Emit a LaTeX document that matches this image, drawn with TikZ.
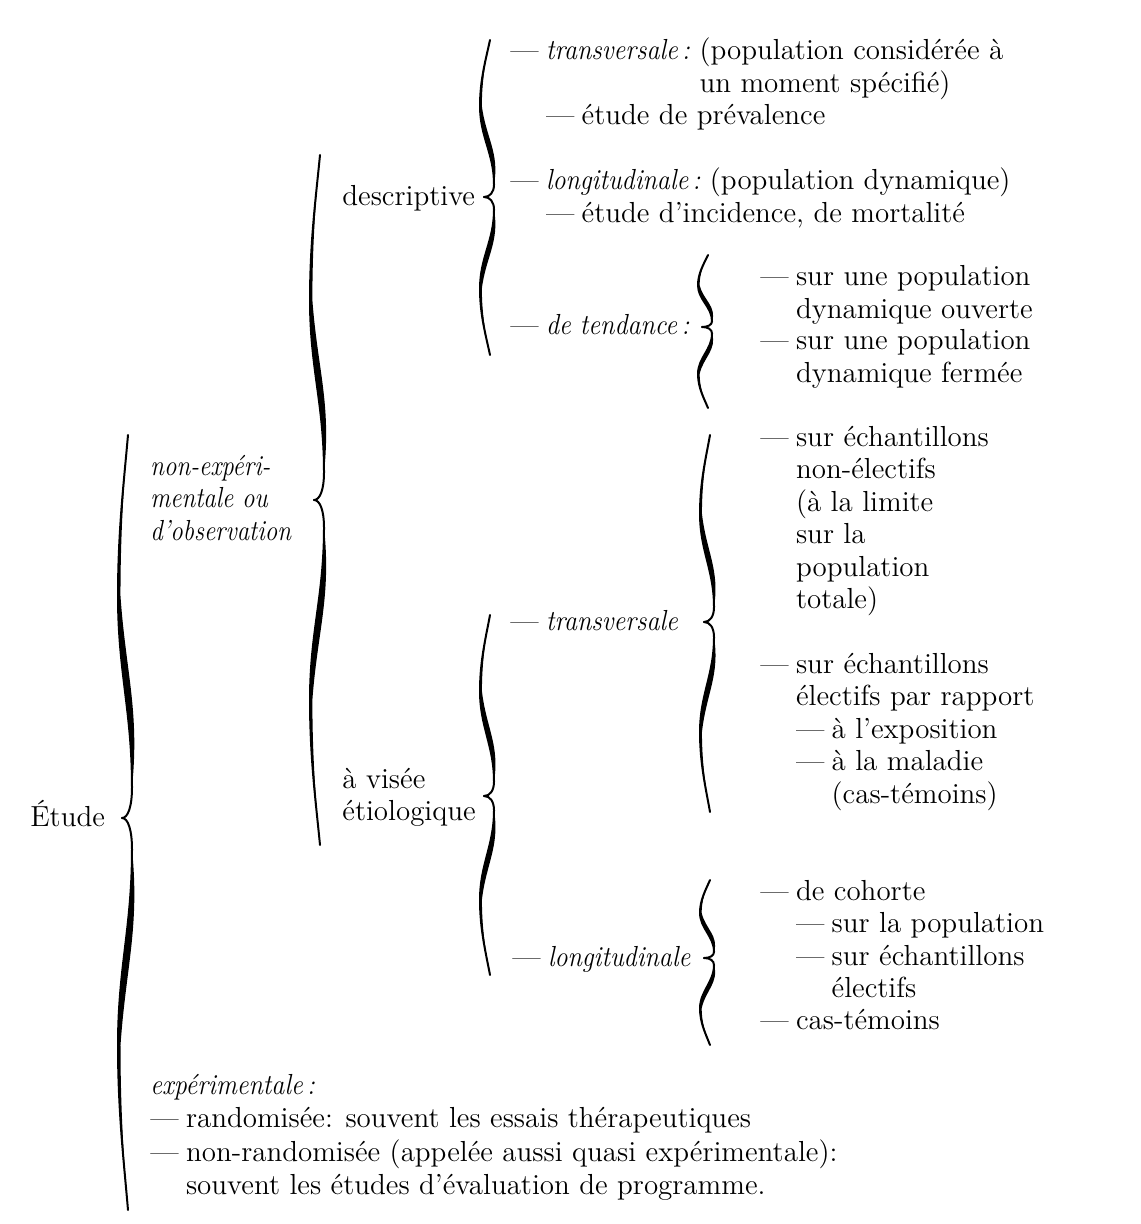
\documentclass[tikz,border=0pt]{standalone}
\usepackage{graphicx}
\usepackage{tikz}
\newcommand{\tiret}{—\hspace{0.25em}}
\newcommand{\bloc}[1]{\begin{tabular}[t]{@{}l@{}}#1\end{tabular}}
\newcommand{\ital}[1]{\scalebox{0.9}[1]{\itshape #1}}
% half of a curly brace: #1 x of end, #2 y of end, #3 y of tip
\newcommand{\demiaccolade}[3]{%
  \pgfmathsetmacro{\hh}{#3-#2}%
  \pgfmathsetmacro{\ww}{4+0.008*abs(\hh)}%
  \draw[accolade] ({#1},{#2})
    .. controls ({#1-4},{#2+0.12*\hh}) and ({#1-10},{#2+0.25*\hh}) .. ({#1-10},{#2+0.42*\hh})
    .. controls ({#1-10},{#2+0.62*\hh}) and ({#1+4},{#2+0.72*\hh}) .. ({#1+4},{#2+0.92*\hh})
    .. controls ({#1+4},{#2+0.97*\hh}) and ({#1},{#3}) .. ({#1-6},{#3});
  \fill ({#1},{#2})
    .. controls ({#1-4},{#2+0.12*\hh}) and ({#1-10},{#2+0.25*\hh}) .. ({#1-10},{#2+0.42*\hh})
    .. controls ({#1-10},{#2+0.62*\hh}) and ({#1+4},{#2+0.72*\hh}) .. ({#1+4},{#2+0.92*\hh})
    .. controls ({#1+4+1.1*\ww},{#2+0.72*\hh}) and ({#1-10+1.1*\ww},{#2+0.62*\hh}) .. ({#1-10+0.35*\ww},{#2+0.42*\hh})
    .. controls ({#1-10+0.35*\ww},{#2+0.25*\hh}) and ({#1-4},{#2+0.12*\hh}) .. cycle;
}
\newcommand{\accolade}[4]{\demiaccolade{#1}{#2}{#3}\demiaccolade{#1}{#4}{#3}}
\tikzset{
  txt/.style={anchor=base west, inner sep=0pt},
  accolade/.style={line width=1pt, line cap=round},
}

\begin{document}
\begin{tikzpicture}[x=0.5pt, y=-0.5pt, font=\fontsize{14.5}{16.25}\selectfont]
  \useasboundingbox (0,0) rectangle (1140,1224);

  % braces
  \accolade{128}{435}{818}{1210}
  \accolade{320}{155}{500}{845}
  \accolade{490}{40}{197}{355}
  \accolade{490}{615}{796}{975}
  \accolade{708}{255}{327}{408}
  \accolade{710}{435}{622}{812}
  \accolade{710}{880}{958}{1045}

  % left side
  \node[txt] (etude) at (30,826) {Étude};
  \node[txt] (nonexp) at (150,475) {\scalebox{0.86}[1]{\itshape\bloc{non-expéri-\\mentale ou\\d’observation}}};
  \node[txt] (descr) at (342,206) {descriptive};
  \node[txt] (visee) at (342,788) {\bloc{à visée\\étiologique}};

  % descriptive
  \node[txt] (transdesc) at (510,60) {\tiret\bloc{\ital{transversale\,:} \bloc{(population considérée à\\un moment spécifié)}\\\tiret étude de prévalence}};
  \node[txt] (longdesc) at (510,190) {\tiret\bloc{\ital{longitudinale\,:} (population dynamique)\\\tiret étude d’incidence, de mortalité}};
  \node[txt] (tend) at (510,335) {\tiret\ital{de tendance\,:}};
  \node[txt] (ouverte) at (760,286) {\tiret\bloc{sur une population\\dynamique ouverte}};
  \node[txt] (fermee) at (760,350) {\tiret\bloc{sur une population\\dynamique fermée}};

  % etiologique
  \node[txt] (transetio) at (510,630) {\tiret\ital{transversale}};
  \node[txt] (nonelect) at (760,446) {\tiret\bloc{sur échantillons\\non-électifs\\(à la limite\\sur la\\population\\totale)}};
  \node[txt] (elect) at (760,673) {\tiret\bloc{sur échantillons\\électifs par rapport\\\tiret à l’exposition\\\tiret\bloc{à la maladie\\(cas-témoins)}}};
  \node[txt] (longetio) at (512,966) {\tiret\ital{longitudinale}};
  \node[txt] (cohorte) at (760,900) {\tiret\bloc{de cohorte\\\tiret sur la population\\\tiret\bloc{sur échantillons\\électifs}}};
  \node[txt] (castem) at (760,1029) {\tiret cas-témoins};

  % experimentale
  \node[txt, font=\fontsize{14.5}{16.8}\selectfont] (exper) at (150,1094) {\bloc{\ital{expérimentale\,:}\\\tiret randomisée: souvent les essais thérapeutiques\\\tiret\bloc{non-randomisée (appelée aussi quasi expérimentale):\\souvent les études d’évaluation de programme.}}};
\end{tikzpicture}
\end{document}
